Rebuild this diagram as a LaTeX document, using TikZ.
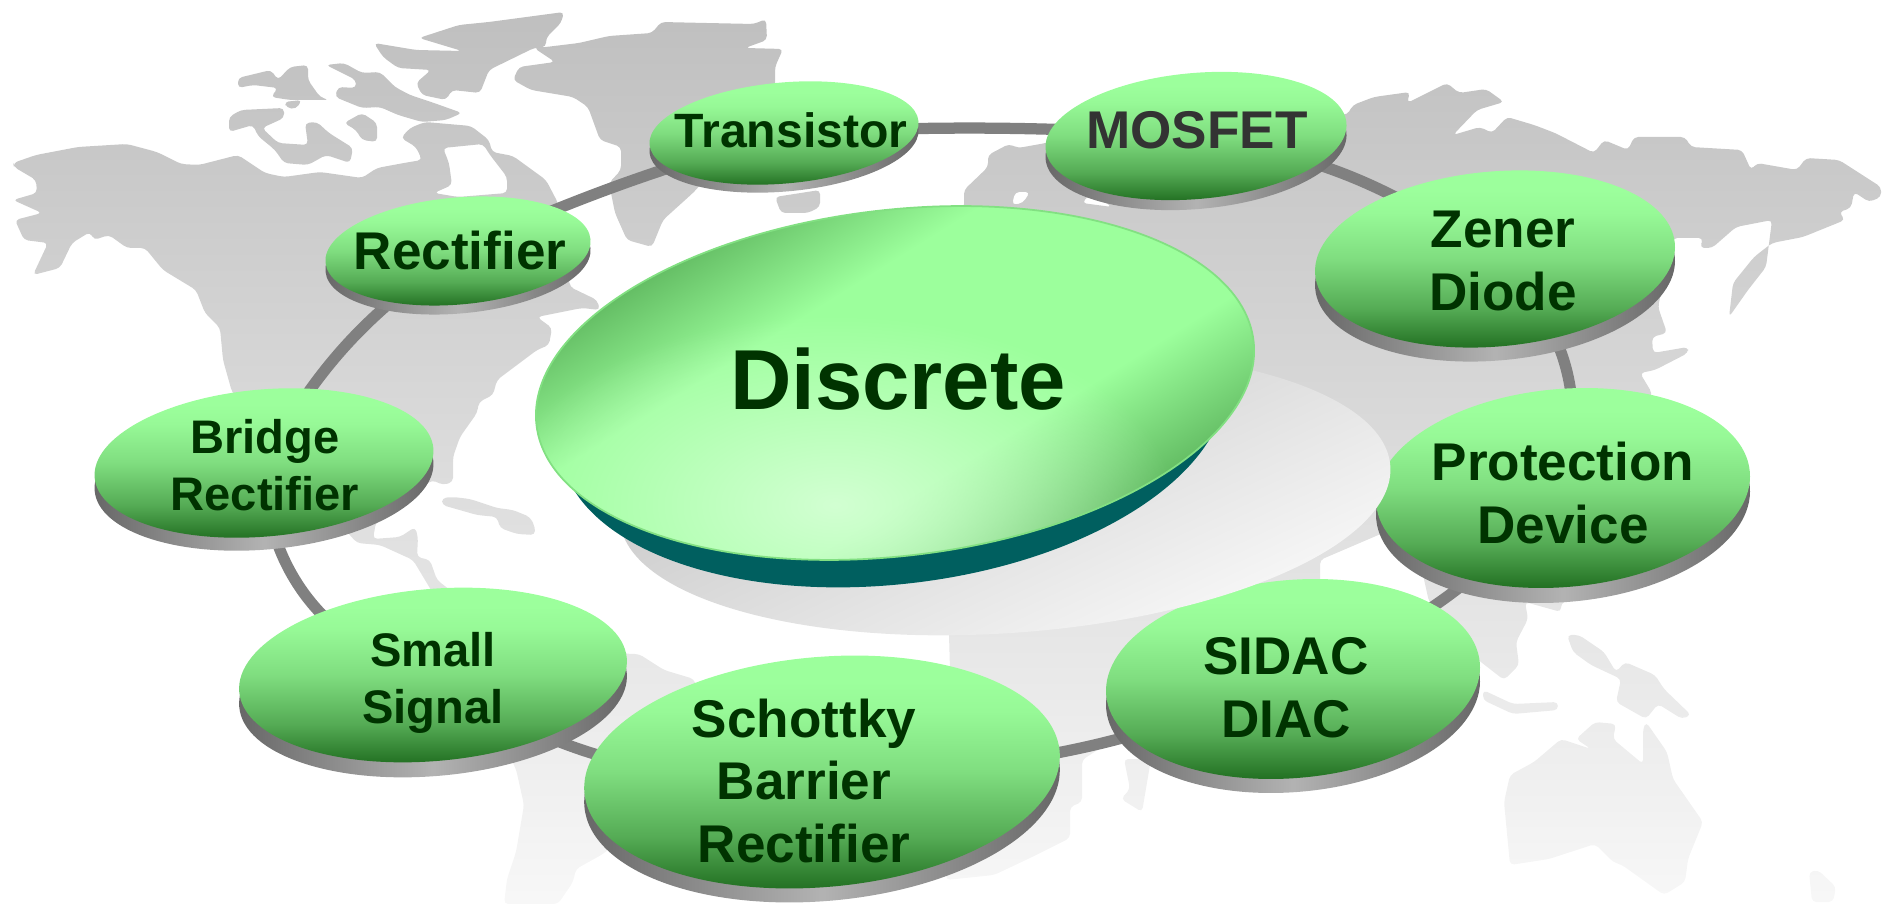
\documentclass[tikz,border=0pt]{standalone}
\usepackage{fontspec}
\setmainfont{Liberation Sans}
\usetikzlibrary{calc, shapes.geometric, fadings}
\pgfdeclarelayer{background}
\pgfsetlayers{background,main}
\definecolor{disctop}{HTML}{9CFF9C}
\definecolor{discbot}{HTML}{1A661A}
\definecolor{disctext}{HTML}{003300}
\definecolor{discteal}{HTML}{005F5F}
\definecolor{discglow}{HTML}{D2FFD2}
\pgfdeclareverticalshading{discface}{100bp}{color(0bp)=(discbot); color(25bp)=(discbot); color(37bp)=(discbot!55!disctop); color(50bp)=(discbot!22!disctop); color(62bp)=(discbot!4!disctop); color(68bp)=(disctop); color(100bp)=(disctop)}
\pgfdeclareverticalshading{centreface}{100bp}{color(0bp)=(discbot!50!disctop); color(27bp)=(discbot!50!disctop); color(40bp)=(disctop); color(60bp)=(disctop); color(73bp)=(discbot!50!disctop); color(100bp)=(discbot!50!disctop)}
\tikzfading[name=glowfade, inner color=transparent!0, outer color=transparent!100]
\begin{document}
\begin{tikzpicture}[x=0.01cm, y=-0.01cm,
  disc/.style={ellipse, rotate=5, inner sep=0pt, outer sep=0pt, shading=discface},
  discside/.style={ellipse, rotate=5, inner sep=0pt, outer sep=0pt, left color=black!60, right color=black!60, middle color=black!30},
  label/.style={text=disctext, align=center, font=\fontsize{15.1}{17.9}\selectfont\bfseries},
  labelsmall/.style={label, font=\fontsize{13.4}{16.3}\selectfont\bfseries},
  ringline/.style={line width=3.2pt, black!50},
  mapland/.style={top color=black!25, middle color=black!11, bottom color=black!3, even odd rule, rounded corners=1.2pt}]
  \useasboundingbox (0, 0) rectangle (1892, 904);

% discs
  \foreach \x/\y/\w/\t/\d/\n in {458/251/266/107/9/rectifier, 784/133/270/101/8/transistor, 1196/136/302/126/10/mosfet,
    1495/259/361/175/14/zener, 1563/488/375/198/15/protection, 1293/679/375/198/14/sidac,
    822/772/477/230/14/schottky, 433/675/389/172/15/small, 264/463/340/147/13/bridge}{
    \draw (\x, \y + \d) node[discside, minimum width=\w*0.01cm, minimum height=\t*0.01cm] (\n side) {};
    \draw (\x, \y) node[disc, minimum width=\w*0.01cm, minimum height=\t*0.01cm] (\n) {};
  }

% centre
  \draw (1005, 493) node[ellipse, rotate=4, inner sep=0pt, minimum width=7.72cm, minimum height=2.8cm, shading=axis, top color=black!24, bottom color=black!2, shading angle=25] (shade) {};
  \draw (893, 412) node[ellipse, rotate=6.7, inner sep=0pt, minimum width=6.7cm, minimum height=3.44cm, fill=discteal] (centreside) {};
  \draw (895, 383) node[ellipse, rotate=6.7, inner sep=0pt, minimum width=7.22cm, minimum height=3.46cm, shading=centreface, shading angle=32] (centre) {};
  \begin{scope}
    \clip[rotate around={6.7:(895, 383)}] (895, 383) ellipse (361 and 173);
    \fill[discglow, path fading=glowfade] (835, 505) ellipse (340 and 190);
  \end{scope}
  \draw[disctop!80!discbot, line width=0.5pt, rotate around={6.7:(895, 383)}] (895, 383) ellipse (361 and 173);

% map and ring
  \begin{pgfonlayer}{background}
    \shade[mapland]
      (14, 167) -- (13, 163) -- (36, 155) -- (78, 147) -- (127, 144) -- (157, 152) -- (181, 164) -- (199, 165) -- (238, 155) -- (250, 163) -- (265, 173) -- (284, 177) -- (320, 172) -- (362, 178) -- (377, 168) -- (404, 163) -- (422, 160) -- (416, 147) -- (401, 138) -- (410, 128) -- (425, 122) -- (471, 126) -- (489, 140) -- (492, 152) -- (513, 156) -- (546, 180) -- (558, 203) -- (570, 287) -- (597, 300) -- (600, 310) -- (582, 308) -- (537, 317) -- (552, 328) -- (549, 345) -- (537, 350) -- (501, 377) -- (497, 380) -- (493, 395) -- (479, 402) -- (477, 413) -- (460, 437) -- (453, 457) -- (453, 482) -- (443, 485) -- (432, 480) -- (400, 505) -- (376, 522) -- (373, 539) -- (400, 537) -- (415, 527) -- (418, 537) -- (417, 557) -- (430, 560) -- (437, 580) -- (450, 590) -- (437, 600) -- (413, 560) -- (380, 545) -- (357, 543) -- (348, 533) -- (300, 480) -- (232, 392) -- (223, 360) -- (220, 328) -- (205, 313) -- (196, 290) -- (163, 270) -- (145, 248) -- (127, 248) -- (109, 235) -- (94, 240) -- (90, 232) -- (72, 243) -- (60, 268) -- (33, 275) -- (48, 243) -- (24, 240) -- (15, 220) -- (42, 213) -- (13, 200) -- (37, 193) -- (36, 180) -- cycle
      (449, 163) -- (443, 148) -- (483, 144) -- (490, 155) -- (507, 177) -- (507, 193) -- (458, 197) -- (434, 193) -- (452, 185) -- cycle
      (442, 498) -- (453, 497) -- (470, 499) -- (497, 508) -- (513, 510) -- (530, 517) -- (535, 527) -- (535, 535) -- (517, 534) -- (500, 528) -- (497, 517) -- (477, 515) -- (442, 505) -- cycle
      (450, 600) -- (480, 600) -- (627, 654) -- (639, 654) -- (664, 670) -- (694, 679) -- (720, 760) -- (603, 854) -- (576, 869) -- (573, 882) -- (558, 904) -- (504, 904) -- (507, 879) -- (516, 852) -- (524, 805) -- (516, 769) -- (480, 700) -- cycle
      (374, 43) -- (416, 50) -- (462, 51) -- (419, 38) -- (459, 25) -- (489, 22) -- (564, 12) -- (561, 23) -- (546, 38) -- (546, 47) -- (534, 48) -- (489, 70) -- (480, 93) -- (452, 90) -- (446, 100) -- (422, 95) -- (416, 83) -- (431, 70) -- (398, 68) -- (383, 57) -- cycle
      (546, 47) -- (579, 43) -- (609, 36) -- (652, 33) -- (661, 22) -- (706, 23) -- (754, 24) -- (766, 19) -- (767, 40) -- (745, 48) -- (783, 49) -- (775, 67) -- (775, 100) -- (694, 192) -- (663, 220) -- (652, 247) -- (627, 240) -- (615, 213) -- (609, 183) -- (621, 170) -- (621, 147) -- (600, 140) -- (588, 107) -- (573, 97) -- (531, 90) -- (513, 80) -- (519, 67) -- (555, 62) -- (534, 48) -- cycle
      (775, 197) -- (820, 190) -- (820, 207) -- (808, 213) -- (781, 213) -- cycle
      (238, 78) -- (271, 70) -- (278, 80) -- (290, 67) -- (308, 65) -- (308, 80) -- (320, 97) -- (329, 100) -- (290, 100) -- (271, 97) -- (278, 88) -- (253, 85) -- (238, 88) -- cycle
      (326, 65) -- (344, 63) -- (362, 73) -- (380, 72) -- (395, 87) -- (410, 95) -- (434, 103) -- (462, 113) -- (446, 120) -- (422, 122) -- (398, 115) -- (380, 107) -- (362, 108) -- (335, 97) -- (338, 87) -- (356, 88) -- (356, 80) -- cycle
      (229, 132) -- (229, 117) -- (241, 110) -- (284, 108) -- (284, 118) -- (262, 128) -- (278, 143) -- (308, 145) -- (305, 123) -- (317, 122) -- (329, 133) -- (353, 148) -- (350, 163) -- (326, 155) -- (308, 165) -- (284, 163) -- (275, 150) -- (258, 136) -- (253, 125) -- cycle
      (344, 123) -- (362, 113) -- (377, 123) -- (377, 142) -- (362, 140) -- (356, 130) -- cycle
      (284, 102) -- (302, 100) -- (296, 109) -- (287, 108) -- cycle
      (964, 207) -- (964, 190) -- (988, 167) -- (988, 155) -- (1009, 144) -- (1018, 148) -- (1046, 143) -- (1200, 100) -- (1347, 115) -- (1353, 105) -- (1374, 97) -- (1410, 92) -- (1407, 103) -- (1447, 83) -- (1459, 93) -- (1486, 89) -- (1504, 102) -- (1477, 110) -- (1453, 135) -- (1480, 127) -- (1492, 133) -- (1507, 117) -- (1534, 125) -- (1555, 133) -- (1594, 153) -- (1604, 140) -- (1628, 150) -- (1634, 137) -- (1685, 137) -- (1691, 147) -- (1742, 150) -- (1751, 170) -- (1757, 163) -- (1797, 170) -- (1806, 158) -- (1839, 160) -- (1881, 187) -- (1881, 197) -- (1869, 202) -- (1854, 192) -- (1851, 208) -- (1839, 212) -- (1845, 220) -- (1803, 237) -- (1772, 243) -- (1754, 257) -- (1733, 283) -- (1729, 317) -- (1748, 290) -- (1766, 267) -- (1772, 220) -- (1736, 227) -- (1712, 248) -- (1700, 248) -- (1703, 238) -- (1673, 238) -- (1658, 307) -- (1667, 333) -- (1652, 337) -- (1653, 353) -- (1688, 347) -- (1688, 353) -- (1655, 370) -- (1640, 373) -- (1652, 393) -- (1600, 590) -- (1561, 603) -- (1561, 612) -- (1525, 602) -- (1528, 619) -- (1516, 642) -- (1519, 665) -- (1504, 680) -- (1477, 659) -- (1465, 640) -- (1429, 602) -- (1423, 575) -- (1390, 530) -- (1320, 560) -- (1320, 590) -- (1113, 740) -- (1082, 760) -- (1082, 802) -- (1070, 807) -- (1070, 838) -- (1030, 858) -- (994, 875) -- (946, 880) -- (950, 670) -- (949, 635) -- (949, 500) -- cycle
      (1012, 205) -- (1015, 192) -- (1030, 192) -- (1023, 203) -- cycle
      (1082, 203) -- (1091, 193) -- (1112, 207) -- cycle
      (1124, 759) -- (1151, 759) -- (1142, 812) -- (1121, 799) -- (1130, 789) -- cycle
      (1567, 635) -- (1579, 635) -- (1604, 652) -- (1616, 672) -- (1625, 662) -- (1655, 675) -- (1664, 689) -- (1691, 715) -- (1682, 719) -- (1658, 704) -- (1646, 719) -- (1616, 702) -- (1621, 679) -- (1591, 665) -- (1573, 652) -- cycle
      (1483, 690) -- (1513, 704) -- (1558, 702) -- (1558, 710) -- (1513, 714) -- (1483, 700) -- cycle
      (1646, 722) -- (1667, 752) -- (1673, 779) -- (1703, 822) -- (1688, 859) -- (1685, 882) -- (1664, 895) -- (1622, 865) -- (1613, 862) -- (1595, 844) -- (1549, 859) -- (1510, 865) -- (1504, 802) -- (1510, 775) -- (1534, 762) -- (1561, 739) -- (1591, 749) -- (1576, 739) -- (1595, 722) -- (1616, 724) -- (1613, 739) -- (1643, 764) -- (1643, 729) -- cycle
      (1809, 872) -- (1818, 870) -- (1836, 887) -- (1833, 902) -- (1812, 902) -- cycle;
    \foreach \a/\b/\o in {rectifier/transistor/4, transistor/mosfet/3, mosfet/zener/13, zener/protection/32,
      protection/sidac/13, sidac/schottky/11, schottky/small/19, small/bridge/39, bridge/rectifier/13}{
      \draw[ringline] (\a.center) to[bend left=\o] (\b.center);
    }
  \end{pgfonlayer}

% labels
  \draw (460, 251) node[label] (rectifierlabel) {Rectifier};
  \draw (791, 130) node[label, font=\fontsize{13.7}{16}\selectfont\bfseries] (transistorlabel) {Transistor};
  \draw (1197, 130) node[label, text=black!80] (mosfetlabel) {MOSFET};
  \draw (1503, 261) node[label] (zenerlabel) {Zener\\Diode};
  \draw (1563, 493) node[label] (protectionlabel) {Protection\\Device};
  \draw (1286, 688) node[label] (sidaclabel) {SIDAC\\DIAC};
  \draw (804, 781) node[label] (schottkylabel) {Schottky\\Barrier\\Rectifier};
  \draw (433, 683) node[labelsmall] (smalllabel) {Small\\Signal};
  \draw (265, 465) node[labelsmall] (bridgelabel) {Bridge\\Rectifier};
  \draw (898, 379) node[label, font=\fontsize{24.2}{29}\selectfont\bfseries] (centrelabel) {Discrete};
\end{tikzpicture}
\end{document}
